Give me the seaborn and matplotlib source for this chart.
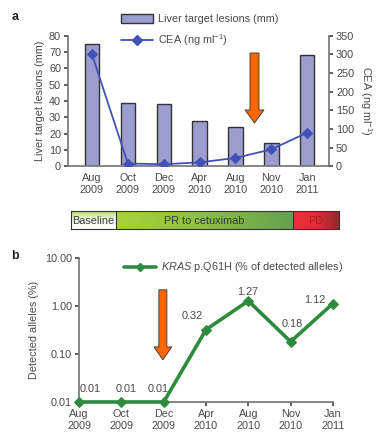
import numpy as np
import pandas as pd
import matplotlib
matplotlib.use("Agg")
import matplotlib.pyplot as plt
import matplotlib.transforms as mtransforms
import seaborn as sns
from matplotlib.patches import Patch, FancyArrow
from matplotlib.lines import Line2D
from matplotlib.colors import LinearSegmentedColormap

# data
dates = ["Aug\n2009", "Oct\n2009", "Dec\n2009", "Apr\n2010", "Aug\n2010", "Nov\n2010", "Jan\n2011"]
lesions_mm = [75, 39, 38, 28, 24, 14, 68]
cea = [300, 7, 5, 10, 22, 45, 90]
kras_pct = [0.01, 0.01, 0.01, 0.32, 1.27, 0.18, 1.12]
kras_labels = ["0.01", "0.01", "0.01", "0.32", "1.27", "0.18", "1.12"]
phases = ["Baseline", "PR to cetuximab", "PD"]
phase_bounds = [0.0, 0.168, 0.828, 1.0]

sns.set_theme(style="white")
plt.rcParams["font.family"] = ["Liberation Sans", "DejaVu Sans"]
plt.rcParams["mathtext.fontset"] = "custom"
plt.rcParams["mathtext.rm"] = "Liberation Sans"
plt.rcParams["mathtext.it"] = "Liberation Sans:italic"
txt = "#4a4a4a"
plt.rcParams.update({"text.color": txt, "axes.labelcolor": txt,
                     "xtick.color": txt, "ytick.color": txt,
                     "axes.edgecolor": "#777777"})
fs = 7.8

fig = plt.figure(figsize=(3.84, 4.43), dpi=100)

# ---------------- panel a ----------------
df_a = pd.DataFrame({"date": dates, "lesions": lesions_mm, "cea": cea, "pos": range(len(dates))})
ax = fig.add_axes([0.177, 0.625, 0.680, 0.294])
sns.barplot(data=df_a, x="date", y="lesions", color="#9c9ccf", edgecolor="#333333",
            linewidth=1.0, width=0.4, saturation=1, ax=ax)
ax.set_ylim(0, 80)
ax.set_yticks(range(0, 81, 10))
ax.set_xlim(-0.67, 6.61)
ax.set_xlabel("")
ax.set_ylabel("Liver target lesions (mm)", fontsize=fs, labelpad=3)
ax.tick_params(axis="both", labelsize=fs, length=3, direction="out", left=True, bottom=False, pad=2)
for s in ["top", "right"]:
    ax.spines[s].set_visible(False)

ax2 = ax.twinx()
sns.lineplot(data=df_a, x="pos", y="cea", color="#4052b5", marker="D", markersize=5,
             markeredgecolor="#4052b5", linewidth=1.3, ax=ax2)
ax2.set_ylim(0, 350)
ax2.set_yticks(range(0, 351, 50))
ax2.set_xlim(-0.67, 6.61)
ax2.set_ylabel("CEA (ng ml$^{-1}$)", fontsize=fs, rotation=270, labelpad=14)
ax2.tick_params(axis="y", labelsize=fs, length=3, direction="out", right=True, pad=2)
for s in ["top", "left", "bottom"]:
    ax2.spines[s].set_visible(False)

ax.add_patch(FancyArrow(4.53, 69.5, 0, -43, width=0.25, head_width=0.53, head_length=8,
                        length_includes_head=True, facecolor="#ff6600", edgecolor="#333333",
                        linewidth=0.6, zorder=5, clip_on=False))

handles_a = [Patch(facecolor="#9c9ccf", edgecolor="#333333", linewidth=1.0),
             Line2D([0], [0], color="#4052b5", marker="D", markersize=5, linewidth=1.3)]
fig.legend(handles_a, ["Liver target lesions (mm)", "CEA (ng ml$^{-1}$)"],
           loc="upper left", bbox_to_anchor=(0.29, 0.99), frameon=False, fontsize=fs,
           handlelength=2.9, handleheight=0.8, labelspacing=0.75, handletextpad=0.5)
fig.text(0.03, 0.955, "a", fontsize=9, fontweight="bold", color="#222222")

# ---------------- timeline ----------------
axt = fig.add_axes([0.185, 0.483, 0.698, 0.041])
grads = [(["#ffffff", "#f4f9e8", "#b0d655"], "v"),
         (["#a8d03a", "#8cbf45", "#68a050"], "h"),
         (["#ee2f3a", "#e02d38", "#8f2a30"], "h")]
text_cols = ["#3a3a3a", "#3a3a3a", "#b01e28"]
for name, lo, hi, (cols, d), tc in zip(phases, phase_bounds[:-1], phase_bounds[1:], grads, text_cols):
    cmap = LinearSegmentedColormap.from_list(name, cols)
    g = np.linspace(0, 1, 64)
    img = g[None, :] if d == "h" else g[:, None]
    axt.imshow(img, cmap=cmap, aspect="auto", origin="lower",
               extent=[lo, hi, 0, 1], interpolation="bilinear")
    axt.text((lo + hi) / 2, 0.45, name, ha="center", va="center", fontsize=fs, color=tc)
for b in phase_bounds[1:-1]:
    axt.axvline(b, color="#333333", linewidth=0.8)
axt.set_xlim(0, 1)
axt.set_ylim(0, 1)
axt.set_xticks([])
axt.set_yticks([])
for s in axt.spines.values():
    s.set_color("#333333")
    s.set_linewidth(0.8)

# ---------------- panel b ----------------
df_b = pd.DataFrame({"pos": range(len(dates)), "kras": kras_pct})
axb = fig.add_axes([0.206, 0.0926, 0.661, 0.418 - 0.0926])
sns.lineplot(data=df_b, x="pos", y="kras", color="#2e8b3e", marker="D", markersize=5,
             markeredgecolor="#2e8b3e", linewidth=2.6, ax=axb, clip_on=False, zorder=4)
axb.set_yscale("log")
axb.set_ylim(0.01, 10)
axb.set_yticks([0.01, 0.1, 1, 10])
axb.set_yticklabels(["0.01", "0.10", "1.00", "10.00"])
axb.minorticks_off()
axb.set_xlim(0, 6)
axb.set_xticks(range(len(dates)))
axb.set_xticklabels(dates)
axb.set_xlabel("")
axb.set_ylabel("Detected alleles (%)", fontsize=fs, labelpad=4)
axb.tick_params(axis="both", labelsize=fs, length=3, direction="out", left=True, bottom=True, pad=2)
for s in ["top", "right"]:
    axb.spines[s].set_visible(False)

offsets = [(8, 9.4), (3.6, 9.4), (-4.3, 9.4), (-10, 10), (-0.7, 6.5), (1.4, 13), (-13, 2.2)]
for i, (v, lab) in enumerate(zip(kras_pct, kras_labels)):
    axb.annotate(lab, (i, v), xytext=offsets[i], textcoords="offset points",
                 ha="center", va="center", fontsize=fs)

# arrow: x in data, y in axes fraction (log axis)
blend = mtransforms.blended_transform_factory(axb.transData, axb.transAxes)
axb.add_patch(FancyArrow(1.98, 0.778, 0, 0.292 - 0.778, width=0.19, head_width=0.42,
                         head_length=0.09, length_includes_head=True, facecolor="#ff6600",
                         edgecolor="#333333", linewidth=0.6, zorder=5, transform=blend))

handles_b = [Line2D([0], [0], color="#2e8b3e", marker="D", markersize=4, linewidth=2.6)]
axb.legend(handles_b, ["$\\it{KRAS}$ p.Q61H (% of detected alleles)"], loc="upper left",
           bbox_to_anchor=(0.14, 1.05), frameon=False, fontsize=fs, handlelength=2.9,
           handletextpad=0.5)
fig.text(0.03, 0.415, "b", fontsize=9, fontweight="bold", color="#222222")

fig.savefig("out.png", dpi=100)
